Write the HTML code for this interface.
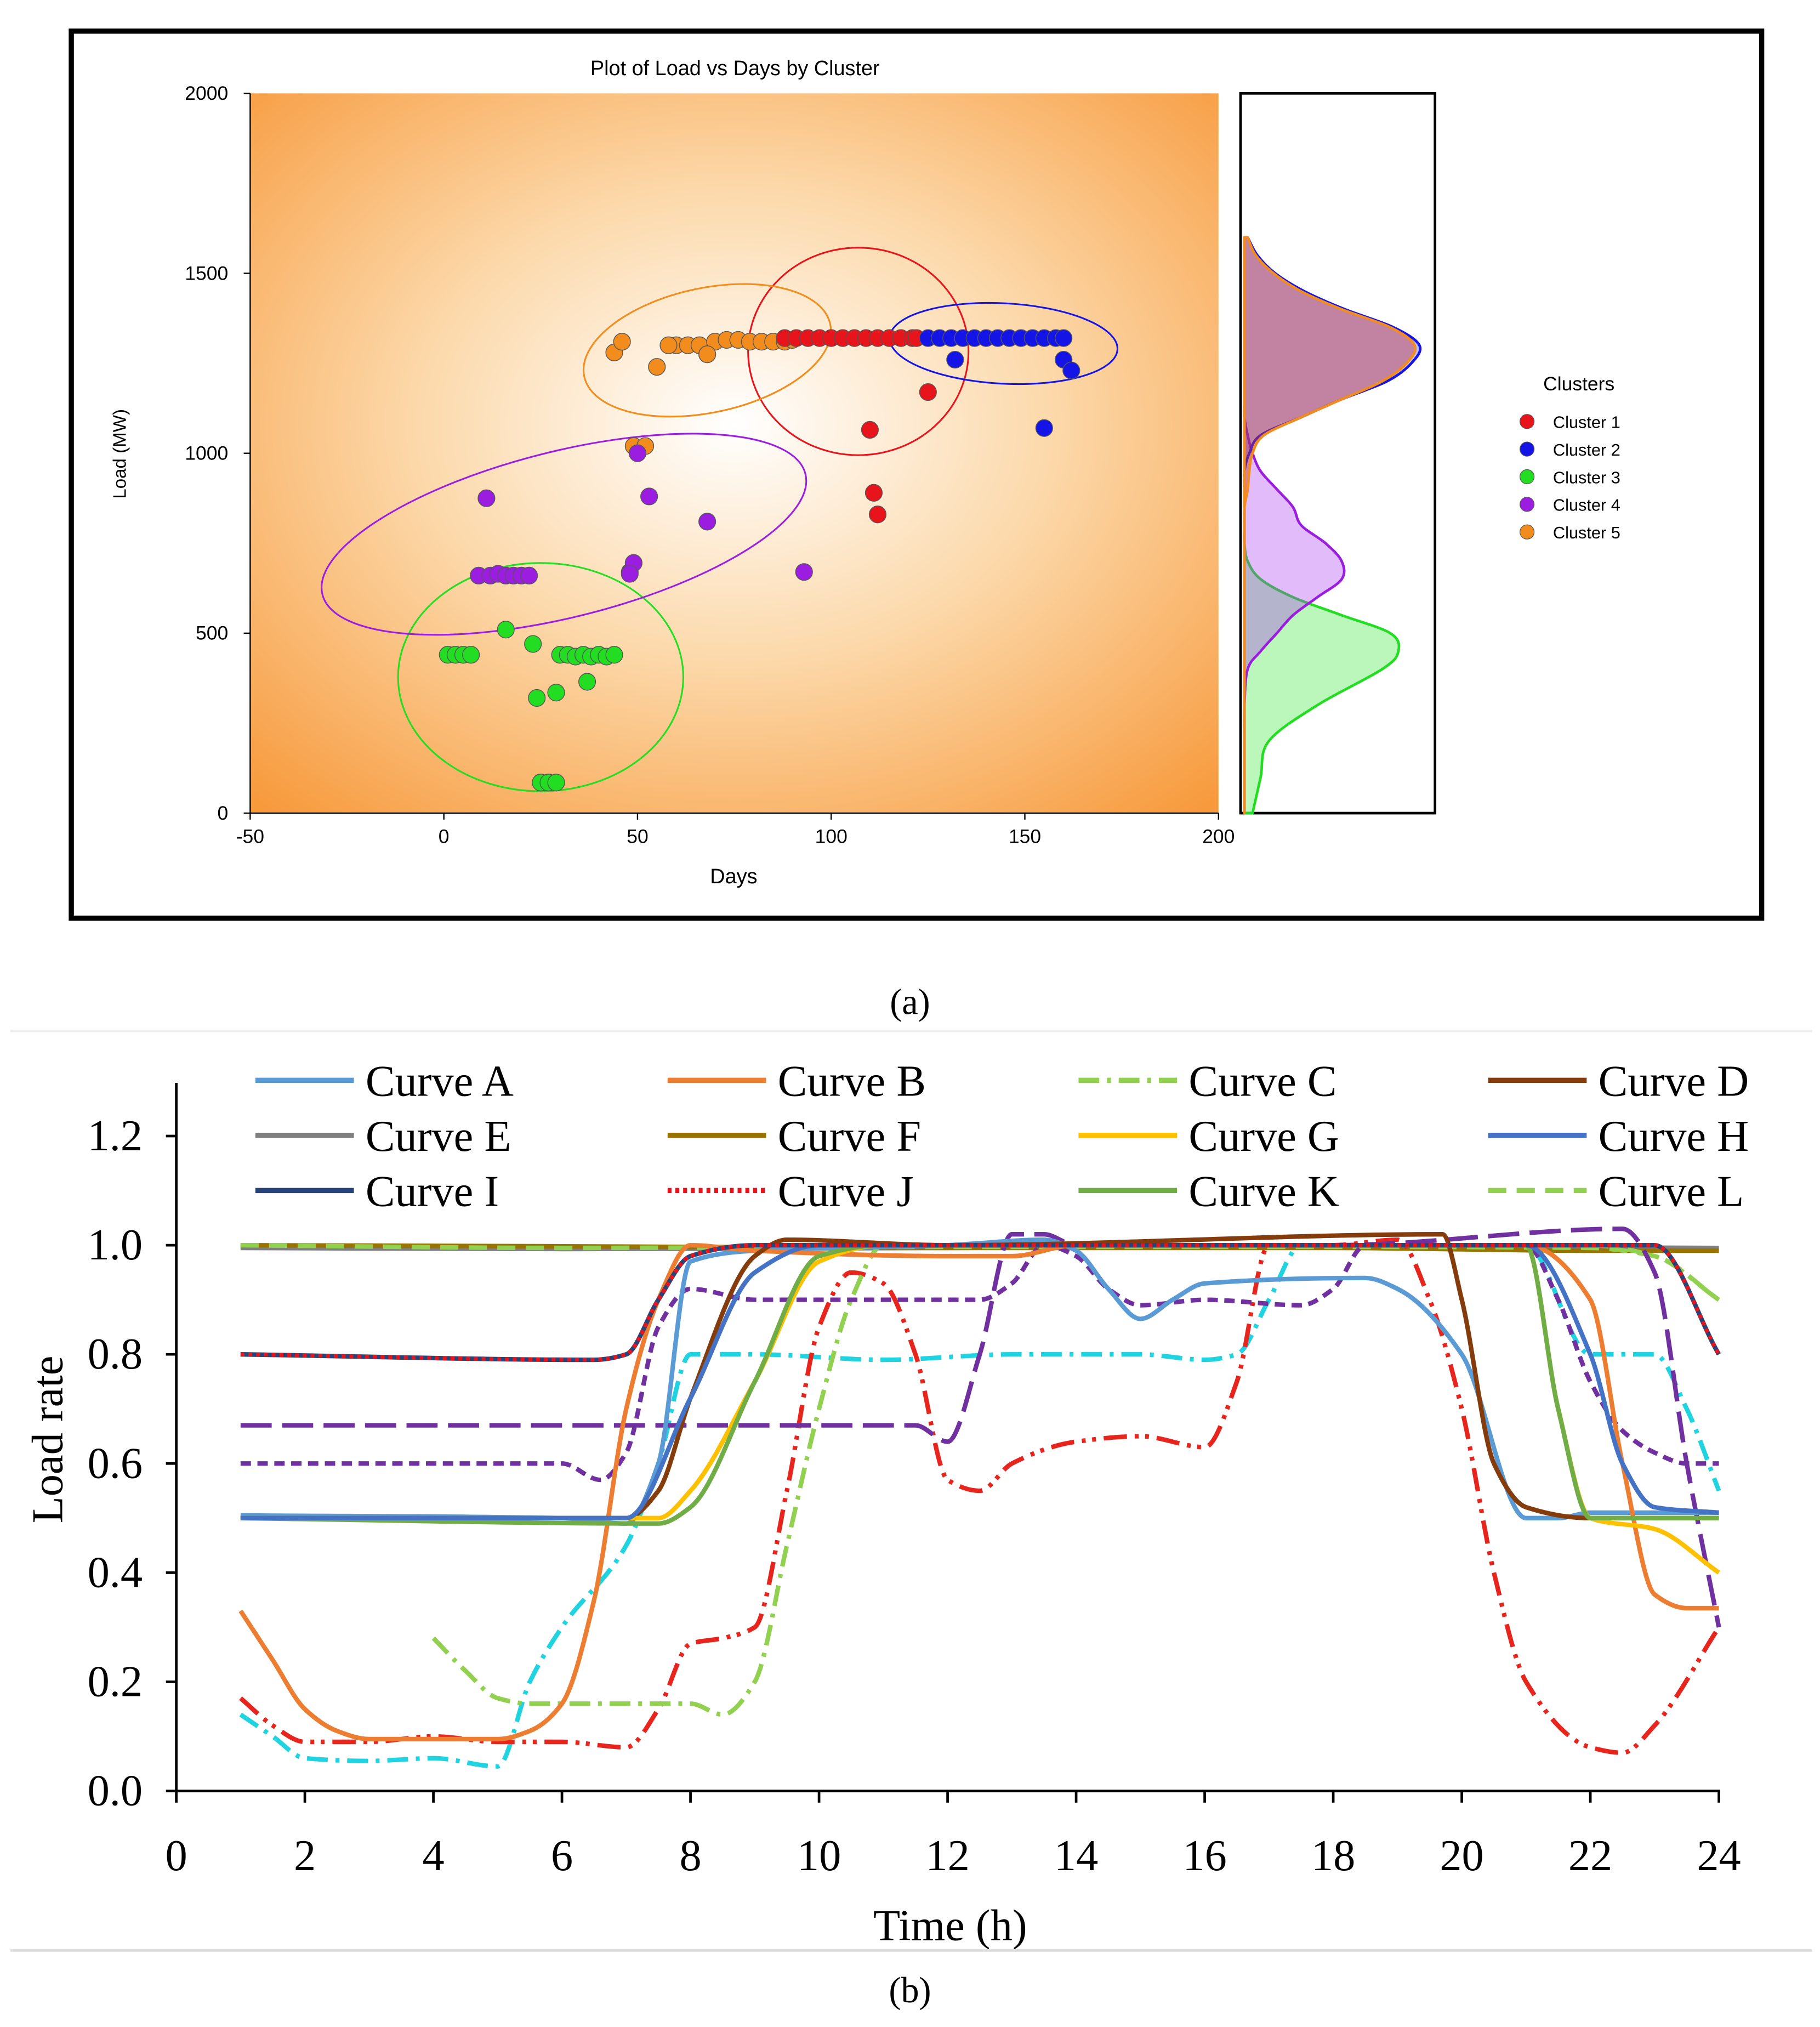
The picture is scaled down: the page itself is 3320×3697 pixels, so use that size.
<!DOCTYPE html>
<html><head><meta charset="utf-8"><style>
html,body{margin:0;padding:0;background:#fff}
svg{display:block}
</style></head><body>
<svg id="fig" xmlns="http://www.w3.org/2000/svg" width="3320" height="3697" viewBox="0 0 1404 1563" preserveAspectRatio="none">
<defs>
<radialGradient id="bg" cx="0.5" cy="0.46" r="0.72">
<stop offset="0" stop-color="#ffffff"/><stop offset="0.45" stop-color="#fcd9ab"/><stop offset="1" stop-color="#f79a3c"/>
</radialGradient>
</defs>
<rect width="1404" height="1563" fill="#fff"/>
<g id="panelA">
<rect x="55" y="24" width="1304" height="684" fill="#fff" stroke="#000" stroke-width="4"/>
<text x="567" y="58" font-family="Liberation Sans, sans-serif" font-size="16" text-anchor="middle">Plot of Load vs Days by Cluster</text>
<rect x="193" y="72" width="747" height="555" fill="url(#bg)"/>
<g id="axA"></g>
<g id="ellA"></g>
<g id="ptsA"></g>
<rect x="957" y="72" width="150" height="555" fill="#fff" stroke="#000" stroke-width="2"/>
<g id="dens"></g>
<text x="97" y="350" font-family="Liberation Sans, sans-serif" font-size="14" text-anchor="middle" transform="rotate(-90 97 350)">Load (MW)</text>
<text x="566" y="681" font-family="Liberation Sans, sans-serif" font-size="16" text-anchor="middle">Days</text>
<g id="legA"><text x="1218" y="301" font-family="Liberation Sans, sans-serif" font-size="15" text-anchor="middle">Clusters</text></g>
</g>
<text x="702" y="782" font-family="Liberation Serif, serif" font-size="28" text-anchor="middle">(a)</text>
<line x1="8" y1="795" x2="1398" y2="795" stroke="#eee" stroke-width="2"/>
<g id="panelB">
<g id="axB"></g>
<g id="curves"></g>
<g id="legB"></g>
<text x="48" y="1110" font-family="Liberation Serif, serif" font-size="34" text-anchor="middle" transform="rotate(-90 48 1110)">Load rate</text>
<text x="733" y="1496" font-family="Liberation Serif, serif" font-size="34" text-anchor="middle">Time  (h)</text>
</g>
<line x1="8" y1="1504" x2="1398" y2="1504" stroke="#ddd" stroke-width="2"/>
<text x="702" y="1544" font-family="Liberation Serif, serif" font-size="28" text-anchor="middle">(b)</text>
</svg>
<script>
const clusterNames=['Cluster 1','Cluster 2','Cluster 3','Cluster 4','Cluster 5'];
const clusterColors=['#e8141c','#1414e6','#22dd22','#9b1ee0','#f28c1c'];
const c1Days=[88,91,94,97,100,103,106,109,112,115,118,121,122,110,125,111,112];
const c1Load=[1320,1320,1320,1320,1320,1320,1320,1320,1320,1320,1320,1320,1320,1065,1170,890,830];
const c2Days=[125,128,131,134,137,140,143,146,149,152,155,158,160,132,155,160,162];
const c2Load=[1320,1320,1320,1320,1320,1320,1320,1320,1320,1320,1320,1320,1320,1260,1070,1260,1230];
const c3Days=[1,3,5,7,16,23,24,29,30,32,34,36,38,40,42,44,37,25,27,29];
const c3Load=[440,440,440,440,510,470,320,335,440,440,435,440,435,440,435,440,365,85,85,85];
const c4Days=[11,9,12,14,16,18,20,22,48,49,48,50,53,68,93];
const c4Load=[875,660,660,665,660,660,660,660,670,695,665,1000,880,810,670];
const c5Days=[44,46,55,60,63,66,68,70,73,76,79,82,85,88,90,68,49,52,58];
const c5Load=[1280,1310,1240,1300,1300,1300,1275,1310,1315,1315,1310,1310,1310,1310,1315,1275,1020,1020,1300];
const xTicksA=[-50,0,50,100,150,200];
const yTicksA=[0,500,1000,1500,2000];

const NS='http://www.w3.org/2000/svg';
function mk(tag,attrs,parent,txt){const e=document.createElementNS(NS,tag);for(const k in attrs)e.setAttribute(k,attrs[k]);if(txt!==undefined)e.textContent=txt;parent.appendChild(e);return e;}
const xA=d=>193+(d+50)*747/250;
const yA=v=>627-v*555/2000;

const axA=document.getElementById('axA');
let ln=mk('line',{x1:193,y1:627,x2:940,y2:627,stroke:'#000','stroke-width':1},axA);


ln=mk('line',{x1:193,y1:72,x2:193,y2:627,stroke:'#000','stroke-width':1},axA);


xTicksA.forEach(t=>{
 mk('line',{x1:xA(t),y1:627,x2:xA(t),y2:632,stroke:'#000'},axA);
 const tx=mk('text',{x:xA(t),y:650,'font-family':'Liberation Sans, sans-serif','font-size':15,'text-anchor':'middle'},axA,t);
 
 
});
yTicksA.forEach(t=>{
 mk('line',{x1:188,y1:yA(t),x2:193,y2:yA(t),stroke:'#000'},axA);
 const tx=mk('text',{x:176,y:yA(t)+5,'font-family':'Liberation Sans, sans-serif','font-size':15,'text-anchor':'end'},axA,t);
 
 
});
const ellCx=[107,144.5,25,31,68];
const ellCy=[1283,1305,378,775,1286];
const ellRx=[85,88,110,192,97];
const ellRy=[80,31,88,64,48];
const ellRot=[0,3,0,-14,-12];
const ellA=document.getElementById('ellA');
ellCx.forEach((c,i)=>{
 const e=mk('ellipse',{cx:xA(c),cy:yA(ellCy[i]),rx:ellRx[i],ry:ellRy[i],fill:'none',stroke:clusterColors[i],'stroke-width':1.3,transform:`rotate(${ellRot[i]} ${xA(c)} ${yA(ellCy[i])})`},ellA);
 
 
});
const ptsA=document.getElementById('ptsA');
[[c5Days,c5Load],[c3Days,c3Load],[c4Days,c4Load],[c1Days,c1Load],[c2Days,c2Load]].forEach((s,k)=>{
 const ci=[4,2,3,0,1][k];
 s[0].forEach((d,j)=>{
  const p=mk('circle',{cx:xA(d),cy:yA(s[1][j]),r:6.5,fill:clusterColors[ci],stroke:'#555','stroke-width':0.6},ptsA);
  
  
 });
});
const densLoad=[0,100,200,300,400,450,500,550,600,650,700,750,800,850,900,950,1000,1050,1100,1150,1200,1250,1300,1350,1400,1450,1500,1550,1600];
const densC3=[0.05,0.1,0.15,0.45,0.85,0.95,0.9,0.6,0.3,0.1,0.02,0,0,0,0,0,0,0,0,0,0,0,0,0,0,0,0,0,0];
const densC4=[0,0,0,0,0.02,0.1,0.2,0.3,0.45,0.6,0.6,0.5,0.35,0.3,0.2,0.1,0.05,0.02,0,0,0,0,0,0,0,0,0,0,0];
const densC1=[0,0,0,0,0,0,0,0,0,0,0,0,0,0,0.02,0.03,0.05,0.12,0.35,0.6,0.85,1.0,1.05,0.9,0.6,0.35,0.18,0.07,0.02];
const densC2=[0,0,0,0,0,0,0,0,0,0,0,0,0,0,0,0,0.03,0.1,0.35,0.6,0.88,1.03,1.08,0.92,0.62,0.37,0.19,0.08,0.02];
const dens=document.getElementById('dens');
const xD=w=>960+w*125;
function densPath(arr,fill,stroke,name){
 const P=arr.map((w,i)=>[xD(w),yA(densLoad[i])]);
 let d=`M960 ${P[0][1]} L${P[0][0]} ${P[0][1]}`;
 for(let i=0;i<P.length-1;i++){
  const p0=P[Math.max(0,i-1)],p1=P[i],p2=P[i+1],p3=P[Math.min(P.length-1,i+2)];
  d+=` C${p1[0]+(p2[0]-p0[0])/6} ${p1[1]+(p2[1]-p0[1])/6} ${p2[0]-(p3[0]-p1[0])/6} ${p2[1]-(p3[1]-p1[1])/6} ${p2[0]} ${p2[1]}`;
 }
 d+=` L960 ${P[P.length-1][1]} Z`;
 const p=mk('path',{d,fill,stroke,'stroke-width':2,'stroke-linejoin':'round'},dens);
 
 
}
densPath(densC3,'rgba(60,230,60,0.35)','#22dd22','density-cluster-3');
densPath(densC4,'rgba(170,60,240,0.35)','#9b1ee0','density-cluster-4');
densPath(densC2,'rgba(40,40,230,0.3)','#1414e6','density-cluster-2');
densPath(densC1,'rgba(200,60,60,0.45)','#f28c1c','density-cluster-1');
const legA=document.getElementById('legA');
clusterNames.forEach((n,i)=>{
 const y=325+i*21.3;
 const c=mk('circle',{cx:1178,cy:y,r:5.5,fill:clusterColors[i],stroke:'#555','stroke-width':0.5},legA);
 
 
 const t=mk('text',{x:1198,y:y+5,'font-family':'Liberation Sans, sans-serif','font-size':13},legA,n);
 
 
});

const xTicksB=[0,2,4,6,8,10,12,14,16,18,20,22,24];
const yTicksB=[0.0,0.2,0.4,0.6,0.8,1.0,1.2];
const aT=[1,6,7,7.5,8,9,12,13.5,14,14.5,15,15.5,16,18.5,19,20,21,21.5,22,24];
const aV=[0.505,0.5,0.49,0.6,0.97,0.99,1.0,1.01,0.99,0.92,0.865,0.9,0.93,0.94,0.92,0.8,0.5,0.5,0.51,0.51];
const bT=[1,1.5,2,2.5,3,4,5,5.5,6,6.5,7,7.5,8,9,12,13,14,21,22,22.5,23,23.5,24];
const bV=[0.33,0.24,0.15,0.11,0.095,0.095,0.095,0.11,0.16,0.35,0.7,0.9,1.0,0.99,0.98,0.98,1.0,1.0,0.9,0.6,0.36,0.335,0.335];
const cT=[4,4.5,5,5.5,8,8.5,9,9.5,10,10.5,11,14,22,23,24];
const cV=[0.28,0.22,0.17,0.16,0.16,0.14,0.2,0.45,0.7,0.9,1.0,1.0,1.0,0.98,0.9];
const dT=[1,7,7.5,8,9,9.5,12,19.7,20,20.5,21,22,24];
const dV=[0.5,0.5,0.55,0.72,0.98,1.01,1.0,1.02,0.9,0.6,0.52,0.5,0.5];
const eT=[1,6,12,18,24];
const eV=[0.995,0.993,0.995,0.997,0.995];
const fT=[1,6,12,18,22,24];
const fV=[1.0,0.998,0.995,0.995,0.99,0.99];
const gT=[1,7.5,8,9,10,11,21,21.5,22,23,24];
const gV=[0.5,0.5,0.55,0.75,0.97,1.0,1.0,0.7,0.5,0.48,0.4];
const hT=[1,7,8,9,10,21,22,22.5,23,24];
const hV=[0.5,0.5,0.72,0.95,1.0,1.0,0.8,0.6,0.52,0.51];
const iT=[1,6.5,7,7.5,8,9,23,24];
const iV=[0.8,0.79,0.8,0.9,0.98,1.0,1.0,0.8];
const jT=[1,6.5,7,7.5,8,9,23,24];
const jV=[0.8,0.79,0.8,0.9,0.98,1.0,1.0,0.8];
const kT=[1,7.5,8,9,10,11,21,21.5,22,24];
const kV=[0.5,0.49,0.52,0.75,0.98,1.0,1.0,0.7,0.5,0.5];
const lT=[1,6,12,18,22,23,24];
const lV=[1.0,0.995,0.997,0.997,0.995,0.98,0.9];
const pLongT=[1,11.5,12,12.5,13,13.5,14,18,22.5,23,23.5,24];
const pLongV=[0.67,0.67,0.64,0.8,1.02,1.02,1.0,1.0,1.03,0.95,0.6,0.3];
const pShortT=[1,6,6.6,7,7.5,8,9,12.5,13,13.5,14,14.5,15,16,17.5,18,18.5,20,21,21.5,22,22.5,23,23.5,24];
const pShortV=[0.6,0.6,0.57,0.62,0.85,0.92,0.9,0.9,0.93,1.0,0.98,0.92,0.89,0.9,0.89,0.92,1.0,1.0,1.0,0.9,0.75,0.66,0.62,0.6,0.6];
const cyT=[1,1.5,2,3,4,5,5.5,6,7,7.5,8,9,11,13,15,16,16.5,17,17.5,18,21,22,23,23.5,24];
const cyV=[0.14,0.1,0.06,0.055,0.06,0.045,0.2,0.3,0.45,0.6,0.8,0.8,0.79,0.8,0.8,0.79,0.8,0.9,1.0,1.0,1.0,0.8,0.8,0.7,0.55];
const rdT=[1,1.5,2,3,4,5,6,7,7.5,8,8.5,9,9.5,10,10.5,11,11.5,12,12.5,13,14,15,16,16.5,17,18,19,19.5,20,20.5,21,22,22.5,23,24];
const rdV=[0.17,0.12,0.09,0.09,0.1,0.09,0.09,0.08,0.15,0.27,0.28,0.3,0.55,0.85,0.95,0.93,0.8,0.57,0.55,0.6,0.64,0.65,0.63,0.75,1.0,1.0,1.01,0.9,0.7,0.4,0.2,0.08,0.07,0.12,0.3];

const xB=t=>136+t*(1326-136)/24;
const yB=v=>1381-v*(1381-876)/1.2;
const axB=document.getElementById('axB');
ln=mk('line',{x1:136,y1:1381,x2:1327,y2:1381,stroke:'#000','stroke-width':2},axB);


ln=mk('line',{x1:136,y1:835,x2:136,y2:1381,stroke:'#000','stroke-width':2},axB);


xTicksB.forEach(t=>{
 mk('line',{x1:xB(t),y1:1381,x2:xB(t),y2:1390,stroke:'#000','stroke-width':2},axB);
 const tx=mk('text',{x:xB(t),y:1442,'font-family':'Liberation Serif, serif','font-size':34,'text-anchor':'middle'},axB,t);
 
 
});
yTicksB.forEach(t=>{
 mk('line',{x1:128,y1:yB(t),x2:136,y2:yB(t),stroke:'#000','stroke-width':2},axB);
 const tx=mk('text',{x:110,y:yB(t)+11,'font-family':'Liberation Serif, serif','font-size':34,'text-anchor':'end'},axB,t.toFixed(1));
 
 
});
// monotone cubic (Fritsch-Carlson) in data space
function smooth(T,V){
 const n=T.length,X=T.map(xB),Y=V.map(yB);
 const dl=[],m=new Array(n);
 for(let i=0;i<n-1;i++)dl.push((Y[i+1]-Y[i])/(X[i+1]-X[i]));
 m[0]=dl[0];m[n-1]=dl[n-2];
 for(let i=1;i<n-1;i++){
  if(dl[i-1]*dl[i]<=0)m[i]=0;
  else{const h0=X[i]-X[i-1],h1=X[i+1]-X[i];const w1=2*h1+h0,w2=h1+2*h0;m[i]=(w1+w2)/(w1/dl[i-1]+w2/dl[i]);}
 }
 let d=`M${X[0]} ${Y[0]}`;
 for(let i=0;i<n-1;i++){
  const h=(X[i+1]-X[i])/3;
  d+=` C${X[i]+h} ${Y[i]+m[i]*h} ${X[i+1]-h} ${Y[i+1]-m[i+1]*h} ${X[i+1]} ${Y[i+1]}`;
 }
 return d;
}
const curves=document.getElementById('curves');
function drawCurve(T,V,color,dash,w,name){
 const p=mk('path',{d:smooth(T,V),fill:'none',stroke:color,'stroke-width':w,'stroke-dasharray':dash,'stroke-linecap':'butt'},curves);
 
 
}
drawCurve(eT,eV,'#7f7f7f','none',3.5,'curve-e');
drawCurve(fT,fV,'#997300','none',3.5,'curve-f');
drawCurve(lT,lV,'#92d050','14 8',3.5,'curve-l');
drawCurve(cyT,cyV,'#1fd3e0','16 6 3 6',3.5,'curve-cyan');
drawCurve(rdT,rdV,'#e8251c','18 6 3 5 3 6',3.5,'curve-red-dashdot');
drawCurve(cT,cV,'#92d050','16 6 3 6',3.5,'curve-c');
drawCurve(pShortT,pShortV,'#7030a0','8 5',3.5,'curve-purple-short-dash');
drawCurve(pLongT,pLongV,'#7030a0','24 8',3.5,'curve-purple-long-dash');
drawCurve(aT,aV,'#5b9bd5','none',3.5,'curve-a');
drawCurve(bT,bV,'#ed7d31','none',3.5,'curve-b');
drawCurve(dT,dV,'#843c0c','none',3.5,'curve-d');
drawCurve(gT,gV,'#ffc000','none',3.5,'curve-g');
drawCurve(kT,kV,'#70ad47','none',3.5,'curve-k');
drawCurve(hT,hV,'#4472c4','none',3.5,'curve-h');
drawCurve(iT,iV,'#264478','none',3.5,'curve-i');
drawCurve(jT,jV,'#e8141c','3 3',3,'curve-j');
const legNames=['Curve A','Curve B','Curve C','Curve D','Curve E','Curve F','Curve G','Curve H','Curve I','Curve J','Curve K','Curve L'];
const legColors=['#5b9bd5','#ed7d31','#92d050','#843c0c','#7f7f7f','#997300','#ffc000','#4472c4','#264478','#e8141c','#70ad47','#92d050'];
const legDash=['none','none','16 6 3 6','none','none','none','none','none','none','3 3','none','14 8'];
const legB=document.getElementById('legB');
const colX=[197,515,832,1148];
legNames.forEach((n,i)=>{
 const cx=colX[i%4],cy=833+Math.floor(i/4)*42.5;
 const l=mk('line',{x1:cx,y1:cy,x2:cx+76,y2:cy,stroke:legColors[i],'stroke-width':4,'stroke-dasharray':legDash[i]},legB);
 
 
 const t=mk('text',{x:cx+85,y:cy+12,'font-family':'Liberation Serif, serif','font-size':34},legB,n);
 
 
});
</script>
</body></html>
